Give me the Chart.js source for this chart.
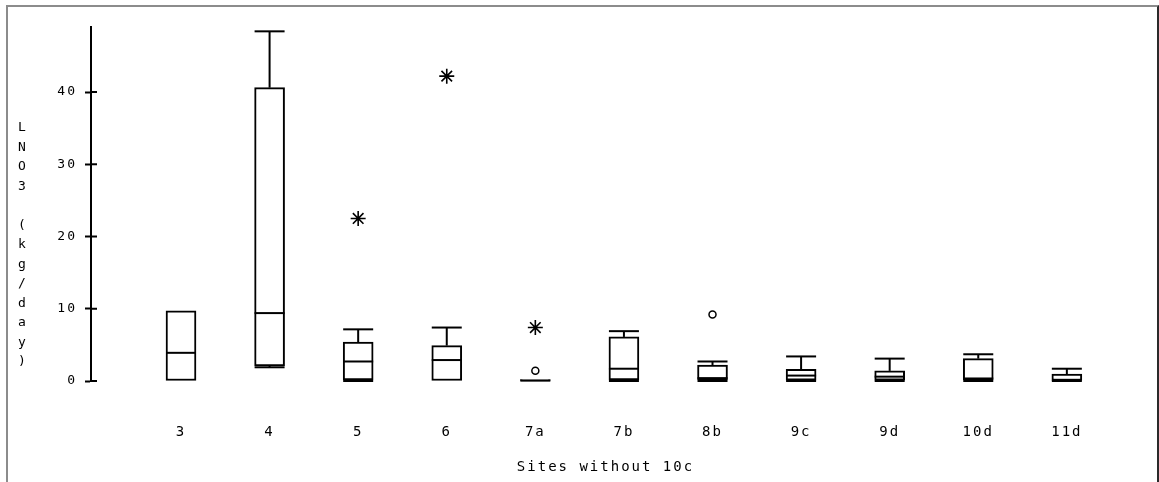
<!DOCTYPE html>
<html>
<head>
<meta charset="utf-8">
<script src="https://cdn.jsdelivr.net/npm/chart.js@4"></script>
<style>
  html, body { margin: 0; padding: 0; background: #fff; overflow: hidden; }
  #frame {
    position: absolute; left: 6px; top: 5px; width: 1153px; height: 520px;
    box-sizing: border-box;
    border-top: 2px solid #8c8c8c; border-left: 2px solid #8c8c8c; border-right: 2px solid #2a2a2a;
  }
  #wrap { position: absolute; left: 0; top: 0; width: 1159px; height: 482px; }
</style>
</head>
<body>
<div id="frame"></div>
<div id="wrap"><canvas id="boxplot" width="1159" height="482"></canvas></div>
<script>
// sites and five-number summaries of LNO3 (kg/day)
const sites = ["3", "4", "5", "6", "7a", "7b", "8b", "9c", "9d", "10d", "11d"];
const minVals = [0, 1.9, 0, 0, 0, 0, 0, 0, 0, 0, 0];
const q1Vals = [0, 2.1, 0.15, 0, 0, 0.15, 0.15, 0.1, 0.1, 0.15, 0];
const medianVals = [3.9, 9.4, 2.7, 2.9, 0.05, 1.7, 0.4, 0.75, 0.6, 0.35, 0];
const q3Vals = [9.7, 40.6, 5.4, 4.9, 0.2, 6.1, 2.2, 1.6, 1.4, 3.1, 0.95];
const maxVals = [9.7, 48.4, 7.15, 7.4, 0.2, 6.9, 2.7, 3.4, 3.1, 3.7, 1.7];

// far outliers (stars) and outliers (circles)
const extremeSites = ["5", "6", "7a"];
const extremeVals = [22.5, 42.2, 7.4];
const outlierSites = ["7a", "8b"];
const outlierVals = [1.43, 9.2];

const yTicks = [0, 10, 20, 30, 40];
const yTitle = ["L", "N", "O", "3", "", "(", "k", "g", "/", "d", "a", "y", ")"];

const xFont = { family: "'DejaVu Sans Mono', monospace", size: 14 };
const yFont = { family: "'DejaVu Sans Mono', monospace", size: 13 };

// whiskers, caps, medians and the inner half of the y ticks
const boxWhiskers = {
  id: "boxWhiskers",
  afterDatasetsDraw(chart) {
    const { ctx, scales: { x, y }, chartArea } = chart;
    const bars = chart.getDatasetMeta(0).data;
    const line = (x1, y1, x2, y2) => {
      ctx.beginPath();
      ctx.moveTo(x1, y1);
      ctx.lineTo(x2, y2);
      ctx.stroke();
    };
    ctx.save();
    ctx.strokeStyle = "#000";
    ctx.lineWidth = 2;
    bars.forEach((bar, i) => {
      const cx = x.getPixelForValue(i);
      const half = bar.width / 2;
      const ym = y.getPixelForValue(medianVals[i]);
      line(cx - half, ym, cx + half, ym);
      if (maxVals[i] > q3Vals[i]) {
        const yt = y.getPixelForValue(maxVals[i]);
        line(cx, y.getPixelForValue(q3Vals[i]), cx, yt);
        line(cx - half, yt, cx + half, yt);
      }
      if (minVals[i] < q1Vals[i]) {
        const yb = y.getPixelForValue(minVals[i]);
        line(cx, y.getPixelForValue(q1Vals[i]), cx, yb);
        line(cx - half, yb, cx + half, yb);
      }
    });
    y.ticks.forEach((t) => {
      const py = y.getPixelForValue(t.value);
      line(chartArea.left, py, chartArea.left + 6, py);
    });
    ctx.restore();
  },
};

// stacked letters for the y axis name
const yStackTitle = {
  id: "yStackTitle",
  afterDraw(chart) {
    const ctx = chart.ctx;
    ctx.save();
    ctx.letterSpacing = "0px";
    ctx.font = "13px 'DejaVu Sans Mono', monospace";
    ctx.fillStyle = "#000";
    ctx.textAlign = "center";
    ctx.textBaseline = "middle";
    yTitle.forEach((ch, i) => {
      if (ch) ctx.fillText(ch, 22, 128 + 19.5 * i);
    });
    ctx.restore();
  },
};

// wide old-style lettering
const spacing = {
  id: "spacing",
  beforeUpdate(chart) { chart.ctx.letterSpacing = "2px"; },
  beforeDraw(chart) { chart.ctx.letterSpacing = "2px"; },
};

new Chart(document.getElementById("boxplot"), {
  type: "bar",
  data: {
    datasets: [
      {
        label: "box",
        data: sites.map((s, i) => ({ x: i, y: [q1Vals[i], q3Vals[i]] })),
        backgroundColor: "#fff",
        borderColor: "#000",
        borderWidth: 2,
        borderSkipped: false,
        barThickness: 30,
        order: 2,
      },
      {
        type: "line",
        label: "extreme",
        data: extremeSites.map((s, k) => ({ x: sites.indexOf(s), y: extremeVals[k] })),
        showLine: false,
        pointStyle: "star",
        pointRadius: 7.5,
        pointBorderWidth: 1.6,
        pointBorderColor: "#000",
        pointBackgroundColor: "#000",
        order: 1,
      },
      {
        type: "line",
        label: "outlier",
        data: outlierSites.map((s, k) => ({ x: sites.indexOf(s), y: outlierVals[k] })),
        showLine: false,
        pointStyle: "circle",
        pointRadius: 3.5,
        pointBorderWidth: 1.5,
        pointBorderColor: "#000",
        pointBackgroundColor: "#fff",
        order: 1,
      },
    ],
  },
  options: {
    responsive: false,
    animation: false,
    layout: { padding: { left: 40, right: 39, top: 27, bottom: 0 } },
    plugins: {
      legend: { display: false },
      tooltip: { enabled: false },
    },
    scales: {
      x: {
        type: "linear",
        offset: false,
        min: -1.016,
        max: 10.6,
        grid: { display: false, drawTicks: false },
        border: { display: false },
        afterBuildTicks: (axis) => {
          axis.ticks = sites.map((s, i) => ({ value: i }));
        },
        afterFit: (scale) => { scale.height = 101; },
        ticks: {
          callback: (v) => sites[v] ?? "",
          padding: 43,
          color: "#000",
          font: xFont,
          maxRotation: 0,
          autoSkip: false,
        },
        title: {
          display: true,
          text: "Sites without 10c",
          color: "#000",
          font: xFont,
          padding: { top: 20, bottom: 6 },
        },
      },
      y: {
        min: 0,
        max: 49,
        afterFit: (scale) => { scale.width = 51; },
        afterBuildTicks: (axis) => {
          axis.ticks = yTicks.map((v) => ({ value: v }));
        },
        ticks: { padding: 8, color: "#000", font: yFont },
        grid: { drawOnChartArea: false, tickLength: 6, tickWidth: 2, color: "#000" },
        border: { color: "#000", width: 2 },
      },
    },
  },
  plugins: [boxWhiskers, yStackTitle, spacing],
});
</script>
</body>
</html>
